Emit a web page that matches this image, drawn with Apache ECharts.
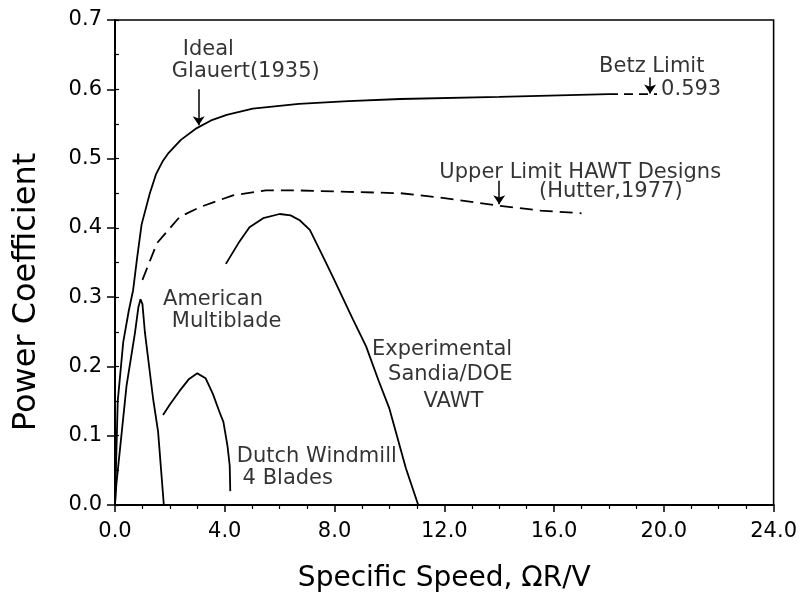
<!DOCTYPE html>
<html><head><meta charset="utf-8">
<script src="https://cdn.jsdelivr.net/npm/echarts@6/dist/echarts.min.js"></script>
<style>html,body{margin:0;padding:0;background:#fff}#c{width:800px;height:598px}</style>
</head><body><div id="c"></div>
<script>
// ---- data ----
const glauertX = [0, 0.1, 0.3, 0.5, 0.66, 0.8, 0.97, 1.27, 1.5, 1.75, 1.93, 2.4, 2.98, 3.5, 4.07, 5.02, 6.7, 8.5, 10.4, 14, 18];
const glauertY = [0, 0.15, 0.235, 0.28, 0.31, 0.355, 0.405, 0.45, 0.478, 0.497, 0.507, 0.527, 0.544, 0.555, 0.563, 0.572, 0.579, 0.583, 0.586, 0.589, 0.593];
const betzX = [18, 19.75];
const betzY = [0.593, 0.593];
const hawtX = [1.0, 1.53, 2.36, 3.1, 4.3, 5.5, 6.7, 8.5, 10.4, 12, 14, 15.5, 17];
const hawtY = [0.325, 0.378, 0.416, 0.43, 0.447, 0.454, 0.454, 0.452, 0.45, 0.443, 0.432, 0.425, 0.421];
const americanX = [0, 0.05, 0.42, 0.73, 0.85, 0.93, 1.0, 1.09, 1.39, 1.57, 1.78];
const americanY = [0, 0.03, 0.172, 0.249, 0.285, 0.297, 0.29, 0.249, 0.153, 0.106, 0.0];
const dutchX = [1.75, 2.0, 2.36, 2.7, 3.0, 3.3, 3.57, 3.8, 3.95, 4.1, 4.18, 4.2];
const dutchY = [0.13, 0.145, 0.165, 0.182, 0.19, 0.183, 0.16, 0.135, 0.12, 0.085, 0.057, 0.02];
const sandiaX = [4.04, 4.5, 4.9, 5.4, 6.0, 6.4, 6.73, 7.1, 7.5, 7.93, 8.67, 9.15, 9.6, 10.0, 10.6, 11.05];
const sandiaY = [0.348, 0.378, 0.401, 0.414, 0.42, 0.418, 0.411, 0.397, 0.365, 0.33, 0.268, 0.229, 0.18, 0.139, 0.053, 0.0];

// annotations (data coordinates)
const annoText  = ['Ideal', 'Glauert(1935)', 'Betz Limit', '0.593', 'Upper Limit HAWT Designs', '(Hutter,1977)',
                   'American', 'Multiblade', 'Experimental', 'Sandia/DOE', 'VAWT', 'Dutch Windmill', '4 Blades'];
const annoX     = [2.47, 2.07, 17.64, 19.9, 11.82, 15.45, 1.75, 2.07, 11.92, 12.22, 12.33, 4.44, 4.65];
const annoY     = [0.658, 0.626, 0.633, 0.599, 0.480, 0.453, 0.297, 0.265, 0.225, 0.189, 0.150, 0.0702, 0.0387];
const annoAlign = ['left', 'left', 'left', 'left', 'left', 'left', 'left', 'left', 'center', 'center', 'center', 'left', 'left'];

// pointer arrows [from, to]
const arrowFrom = [[3.05, 0.600], [19.5, 0.617], [14.0, 0.468]];
const arrowTo   = [[3.05, 0.548], [19.5, 0.594], [14.0, 0.434]];

// axis ticks
const xMin = 0, xMax = 24, xStep = 4;
const yMin = 0, yMax = 0.7, yStep = 0.1;
const xTitle = 'Specific Speed, ΩR/V';
const yTitle = 'Power Coefficient';

const FONT = 'DejaVu Sans';
const zip = (a, b) => a.map((v, i) => [v, b[i]]);
const lineSeries = (xs, ys, dash) => ({
  type: 'line', data: zip(xs, ys), symbol: 'none', showSymbol: false, silent: true,
  lineStyle: { color: '#000', width: 1.8, type: dash || 'solid' }, z: 3
});

const chart = echarts.init(document.getElementById('c'), null, { renderer: 'canvas' });
chart.setOption({
  animation: false,
  backgroundColor: '#fff',
  grid: { left: 115, right: 23, top: 20, bottom: 91, show: true, borderColor: '#000', borderWidth: 1.6, backgroundColor: 'transparent' },
  graphic: [{
    type: 'text', x: 27, y: 292, rotation: Math.PI / 2, silent: true,
    style: { text: yTitle, fontSize: 32, fill: '#000', fontFamily: FONT, align: 'center', verticalAlign: 'middle' }
  }],
  xAxis: {
    type: 'value', min: xMin, max: xMax, interval: xStep,
    axisLine: { onZero: false, lineStyle: { color: '#000', width: 2 } },
    axisTick: { length: 7, lineStyle: { color: '#000', width: 1.5 } },
    minorTick: { show: true, splitNumber: 4, length: 4, lineStyle: { color: '#000', width: 1.2 } },
    axisLabel: { formatter: v => v.toFixed(1), fontSize: 21, color: '#000', margin: 16, fontFamily: FONT },
    splitLine: { show: false },
    name: xTitle, nameLocation: 'middle', nameGap: 60,
    nameTextStyle: { fontSize: 28, color: '#000', fontFamily: FONT }
  },
  yAxis: [{
    type: 'value', min: yMin, max: yMax, interval: yStep,
    axisLine: { onZero: false, lineStyle: { color: '#000', width: 2 } },
    axisTick: { length: 8, lineStyle: { color: '#000', width: 1.5 } },
    axisLabel: { formatter: v => v.toFixed(1), fontSize: 21, color: '#000', margin: 13, fontFamily: FONT },
    splitLine: { show: false }
  }, {
    type: 'value', min: yMin, max: yMax, interval: yStep / 2, position: 'left',
    axisLine: { show: false },
    axisTick: { inside: true, length: 4, lineStyle: { color: '#000', width: 1.2 } },
    axisLabel: { show: false }, splitLine: { show: false }
  }],
  series: [
    lineSeries(glauertX, glauertY),
    lineSeries(betzX, betzY, [9, 6]),
    lineSeries(hawtX, hawtY, [13, 7]),
    lineSeries(americanX, americanY),
    lineSeries(dutchX, dutchY),
    lineSeries(sandiaX, sandiaY),
    {
      type: 'lines', coordinateSystem: 'cartesian2d', silent: true, z: 4,
      symbol: ['none', 'arrow'], symbolSize: [0, 9],
      lineStyle: { color: '#000', width: 1.5, opacity: 1 },
      data: arrowFrom.map((f, i) => ({ coords: [f, arrowTo[i]] }))
    },
    {
      type: 'scatter', symbolSize: 0, silent: true, z: 5,
      data: annoText.map((t, i) => ({
        value: [annoX[i], annoY[i]], name: t,
        label: {
          show: true, formatter: t,
          position: annoAlign[i] === 'left' ? 'right' : 'inside', distance: 0,
          fontSize: 21, color: '#000', fontFamily: FONT
        }
      }))
    }
  ]
});
</script></body></html>
